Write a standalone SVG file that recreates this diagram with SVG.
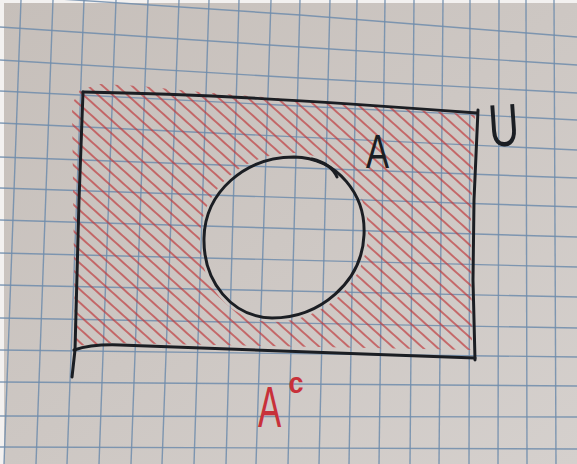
<svg xmlns="http://www.w3.org/2000/svg" width="577" height="464" viewBox="0 0 577 464">
<defs>
<linearGradient id="paper" x1="0" y1="0" x2="1" y2="1">
<stop offset="0" stop-color="#c6bfba"/>
<stop offset="0.5" stop-color="#cdc7c3"/>
<stop offset="1" stop-color="#d5d0cd"/>
</linearGradient>
<pattern id="hatch" patternUnits="userSpaceOnUse" width="40" height="9.8" patternTransform="rotate(42)">
<line x1="0" y1="4.9" x2="40" y2="4.9" stroke="#bf3a3c" stroke-width="1.3" stroke-opacity="0.9"/>
</pattern>
</defs>
<style>
.grid path{fill:none;stroke:#6e8cab;stroke-width:1.4;stroke-opacity:.85}
.ink{fill:none;stroke:#1b1e23;stroke-width:3;stroke-linecap:round;stroke-linejoin:round}
.hand{font-family:"Liberation Sans",Arial,sans-serif}
</style>
<g id="paper-bg">
<rect x="0" y="0" width="577" height="464" fill="url(#paper)"/>
<rect x="0" y="0" width="4" height="464" fill="#f3f1f0"/>
<rect x="0" y="0" width="577" height="3" fill="#f3f1f0"/>
</g>
<g id="grid" class="grid">
<path d="M0,-5 L300,15 L577,37"/>
<path d="M0,27 L300,47 L577,65"/>
<path d="M0,60 L300,78 L577,93"/>
<path d="M0,91 L577,120"/>
<path d="M0,123 L577,150"/>
<path d="M0,157 L577,178"/>
<path d="M0,188 L577,207"/>
<path d="M0,220 L577,237"/>
<path d="M0,253 L577,267"/>
<path d="M0,285 L577,297"/>
<path d="M0,318 L577,328"/>
<path d="M0,350 L577,357"/>
<path d="M0,382 L577,386"/>
<path d="M0,416 L577,417"/>
<path d="M0,447 L577,449"/>
<path d="M21,0 L4,464"/>
<path d="M53,0 L36,464"/>
<path d="M84,0 L67,464"/>
<path d="M116,0 L99,464"/>
<path d="M148,0 L131,464"/>
<path d="M179,0 L162,464"/>
<path d="M209,0 L194,464"/>
<path d="M239,0 L226,464"/>
<path d="M271,0 L256,464"/>
<path d="M300,0 L288,464"/>
<path d="M330,0 L319,464"/>
<path d="M357,0 L349,464"/>
<path d="M385,0 L379,464"/>
<path d="M414,0 L410,464"/>
<path d="M443,0 L439,464"/>
<path d="M470,0 L469,464"/>
<path d="M499,0 L498,464"/>
<path d="M526,0 L527,464"/>
<path d="M554,0 L556,464"/>
</g>
<g id="complement-hatch">
<path fill="url(#hatch)" fill-rule="evenodd" d="M72,104 L80,90 L100,84 L140,86 L200,92 L300,100 L475,115 L471,220 L472,350 L110,343 L75,346 Z M294,153 C341,154 370,194 368,235 C366,285 322,322 272,322 C229,321 199,284 200,238 C201,189 243,153 294,153 Z"/>
</g>
<g id="universe">
<path class="ink" d="M83,92 C200,94 300,100 477,113"/>
<path class="ink" d="M478,110 L474,200 L473,280 L475,360"/>
<path class="ink" d="M74,350 Q92,344 120,345 L475,358"/>
<path class="ink" d="M83,92 L79,200 L75,350 L72,377"/>
<text class="hand" font-size="60" fill="#1b1e23" text-anchor="middle" transform="translate(505,146) rotate(-4) scale(0.7,1)">U</text>
</g>
<g id="setA">
<path class="ink" stroke-width="2.8" d="M294,157 C338,158 366,195 364,235 C362,282 320,318 272,318 C232,317 203,282 204,238 C205,192 245,157 294,157 Z"/>
<path class="ink" stroke-width="2" d="M312,159 C325,162 333,168 337,177"/>
<text class="hand" font-size="48" fill="#1b1e23" text-anchor="middle" transform="translate(377.5,168) scale(0.72,1)">A</text>
</g>
<g id="label-Ac">
<text class="hand" font-size="58" fill="#c8313a" text-anchor="middle" transform="translate(269.5,427) scale(0.6,1)">A</text>
<text class="hand" font-size="30" font-weight="bold" fill="#c8313a" text-anchor="middle" transform="translate(296,393) scale(0.9,1)">c</text>
</g>
</svg>
